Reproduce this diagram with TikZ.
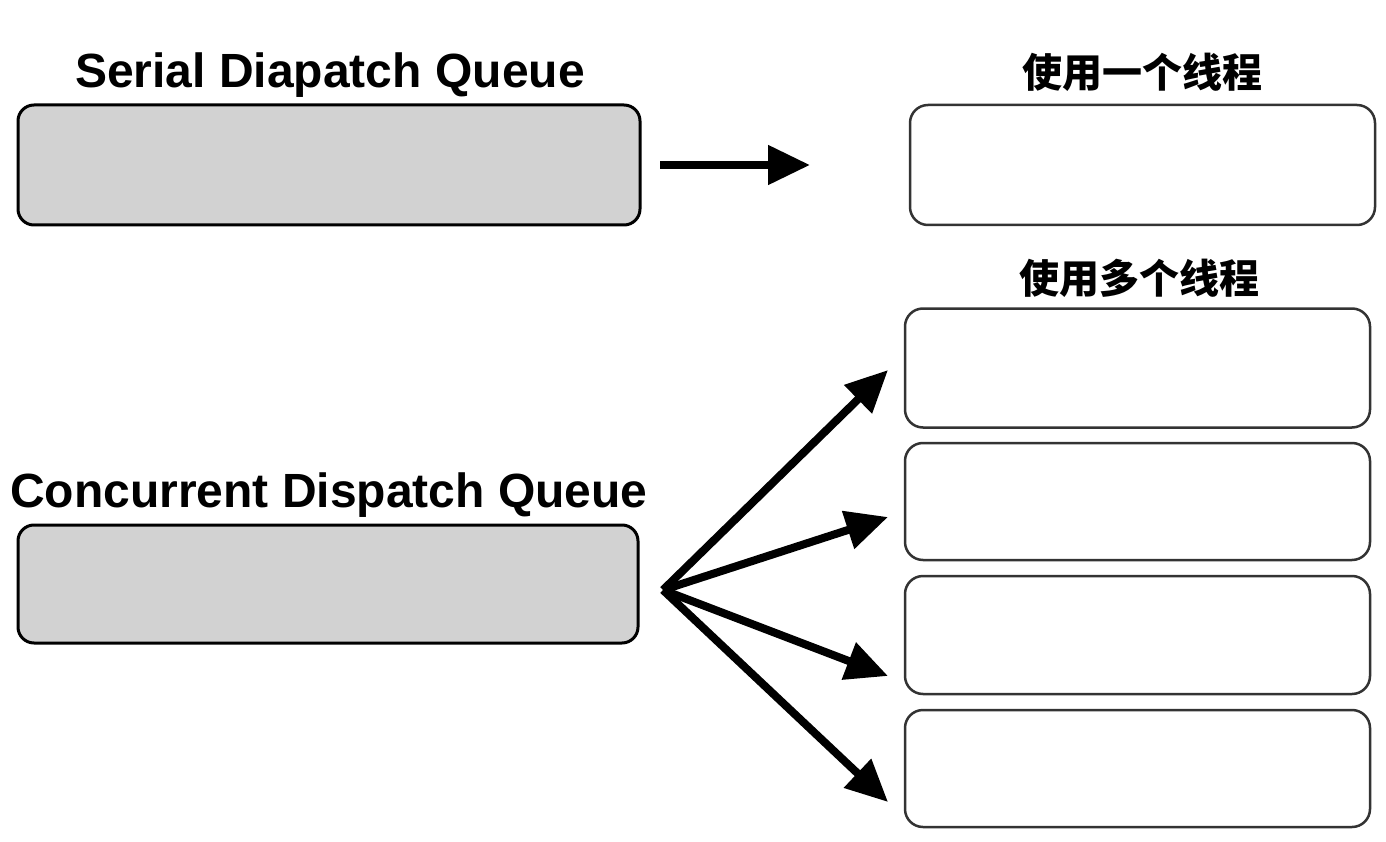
\documentclass[tikz,border=0pt]{standalone}
\usepackage{fontspec}
\setmainfont{Liberation Sans}
\newfontfamily\cjk{Noto Sans CJK SC}
\usetikzlibrary{arrows.meta}
\tikzset{
  qbox/.style={draw=black, line width=3pt, fill=gray!35, rounded corners=16pt, inner sep=0pt, minimum width=622pt},
  tbox/.style={draw=black!80, line width=2.5pt, fill=white, rounded corners=18pt, inner sep=0pt, minimum width=465pt},
  qlabel/.style={anchor=base, inner sep=0pt, font=\fontsize{48}{56}\selectfont\bfseries},
  tlabel/.style={anchor=center, inner sep=0pt, font=\fontsize{40}{46}\selectfont\cjk\bfseries},
  arr/.style={line width=8pt, -{Triangle[length=42pt, width=38pt]}},
}
\begin{document}
\begin{tikzpicture}[x=1pt, y=-1pt]
\useasboundingbox (0,0) rectangle (1386,842);
% left queues
\node[qlabel] (serialT) at (330,88) {Serial Diapatch Queue};
\node[qbox, minimum height=120pt] (g1) at (329,165) {};
\node[qlabel] (concT) at (329,507) {Concurrent Dispatch Queue};
\node[qbox, minimum width=620pt, minimum height=118pt] (g2) at (328,584) {};
% right threads
\node[tlabel] (oneT) at (1142,72) {使用一个线程};
\node[tbox, minimum height=120pt] (w0) at (1142.5,165) {};
\node[tlabel] (multiT) at (1139,278) {使用多个线程};
\node[tbox, minimum height=119pt] (w1) at (1137.5,368) {};
\node[tbox, minimum height=117pt] (w2) at (1137.5,501.5) {};
\node[tbox, minimum height=118pt] (w3) at (1137.5,635) {};
\node[tbox, minimum height=117pt] (w4) at (1137.5,768.5) {};
% arrows
\coordinate (s0) at (660,165);
\coordinate (s1) at (810,165);
\draw[arr] (s0) -- (s1);
\coordinate (fan) at (663,590);
\coordinate (t1) at (888,370);
\coordinate (t2) at (888,517);
\coordinate (t3) at (888,676);
\coordinate (t4) at (888,802);
\draw[arr] (fan) -- (t1);
\draw[arr] (fan) -- (t2);
\draw[arr] (fan) -- (t3);
\draw[arr] (fan) -- (t4);
\end{tikzpicture}
\end{document}
